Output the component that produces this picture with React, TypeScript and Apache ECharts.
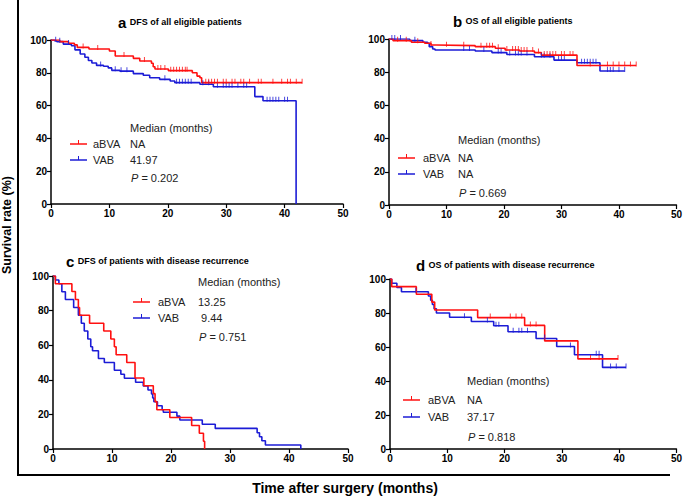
import React, { useEffect, useRef } from "react";
import * as echarts from "echarts";

const RED = "#ff1010";
const BLUE = "#1c1cd6";

// Kaplan-Meier step points [months, survival %]
const aRed = [[0,100],[1.5,99],[3,98],[4,97],[4.5,95.5],[6.5,94.5],[10,93.3],[11,90.2],[14.1,88.8],[15.2,87.2],[17.2,85.8],[17.5,83.7],[17.8,82.3],[20.1,81.3],[24.2,80],[25,78],[25.5,77],[25.8,74],[43,74]];
const aBlue = [[0,100],[0.6,99.5],[1,99],[2.1,97.5],[3.5,96.5],[4.1,94],[5,91.5],[5.8,89.5],[6.4,87.5],[7,86],[7.8,84.5],[9,84],[9.8,83],[10.4,81.5],[11.8,81],[14.1,79.5],[15.8,78.5],[16.9,77],[18.6,76],[20.4,75],[21.2,74],[25.5,73],[27.8,71.5],[34.9,65.5],[36.3,63],[41.97,0]];
const bRed = [[0,100],[0.7,99],[3.9,98],[6.2,97.4],[7.3,96.4],[8.2,96],[15,95.4],[18.5,94.4],[20.2,93.4],[22.7,92.8],[25.3,91.8],[26.5,90.3],[32.7,84],[43,84]];
const bBlue = [[0,100],[3.6,99],[5.9,98],[6.7,97.4],[7,95.4],[7.6,94],[8,93.4],[15,92.8],[17.9,91.8],[20.5,90.7],[25.3,89.3],[28.7,87.3],[32.7,85.7],[36.7,80.7],[41,80.7]];
const cRed = [[0,100],[0.4,95.5],[3.2,91],[3.8,86.4],[4.3,81.8],[4.5,77.3],[6.2,72.7],[8.6,68.2],[9.8,63.6],[10.4,59.1],[10.7,54.5],[12.5,50],[13.9,41],[15.4,36.6],[17,32],[17.3,27.4],[17.6,22.7],[19.8,18.2],[23.5,13.6],[24.8,9.1],[25.5,4.5],[25.7,0]];
const cBlue = [[0,100],[0.4,97.7],[1,95.5],[1.5,90.9],[2.1,86.4],[3.5,81.8],[4.3,77.3],[4.8,72.7],[5.3,68.2],[5.9,63.6],[6.4,59.1],[6.7,56.8],[7.7,52.3],[8.7,50],[10.4,45.5],[11.5,43.2],[12.1,40.9],[14,38.6],[15.3,36.4],[16.1,34.1],[16.7,31.8],[16.9,29.5],[17.1,27.3],[17.7,25],[18.5,22.7],[18.7,21.2],[21,19],[21.5,16.8],[25.3,14.3],[27.5,11.9],[34.6,9.4],[35,7.1],[35.4,4.8],[36,2.3],[42,0]];
const dRed = [[0,100],[0.3,95.5],[4.6,91],[7.3,86.4],[7.8,81.8],[15.3,77.3],[23.5,72.7],[27,63.6],[32.8,53],[39.8,53]];
const dBlue = [[0,100],[0.3,97.5],[1.2,95],[2,92.5],[6.7,90],[7.1,87.5],[7.4,85],[7.7,82.5],[8.1,80],[10.4,77.5],[14.2,75],[18.1,72.5],[20.6,69],[25.5,65],[29.1,60.3],[32.2,55.4],[37.1,48],[41.2,48]];

// censoring times (months)
const aRedCens = [5.5,8,12.5,16,18.3,18.8,19.5,20.5,21,21.5,22,22.5,23,23.3,26.5,27,27.5,28,28.5,29.5,30,31,31.5,32.5,33,34,35.5,36,38,39.5,40.5,41,42,43];
const aBlueCens = [0.8,1.5,3,8.5,11,12,13,19.5,21.5,22,22.5,23,23.5,24,26,27,28.5,29.5,30,30.5,31,32,33,33.5,37,37.5,38,38.5,39,40,40.5];
const bRedCens = [1.5,3,5,7.3,10,13,16,17,17.5,18,19,20.5,21.5,22,22.5,23,23.5,24,25,26,27,27.5,28,28.5,29,30,30.5,31.5,32,35,38,39,40,41,42,43];
const bBlueCens = [0.5,1,2,4.5,13,14,16.5,19,19.5,21,22,22.5,23,24,26.5,27,28,29.5,30,30.5,33.5,34,34.5,35,35.5,36,38,38.5,39,40,41];
const dRedCens = [17.5,21,22,23,24.5,25.5,35,36.5,39.8];
const dBlueCens = [4.5,13,17,18.5,19,21.5,22.5,23,24,27,31.5,36,36.5,38.5,39.5,41.2];

const xTicks = [0, 10, 20, 30, 40, 50];
const yTicks = [0, 20, 40, 60, 80, 100];

const panels = [
  { letter: "a", title: "DFS of all eligible patients", red: aRed, blue: aBlue, redC: aRedCens, blueC: aBlueCens, redMed: "NA", blueMed: "41.97", p: "0.202" },
  { letter: "b", title: "OS of all eligible patients", red: bRed, blue: bBlue, redC: bRedCens, blueC: bBlueCens, redMed: "NA", blueMed: "NA", p: "0.669" },
  { letter: "c", title: "DFS of patients with disease recurrence", red: cRed, blue: cBlue, redC: [] as number[], blueC: [] as number[], redMed: "13.25", blueMed: " 9.44", p: "0.751" },
  { letter: "d", title: "OS of patients with disease recurrence", red: dRed, blue: dBlue, redC: dRedCens, blueC: dBlueCens, redMed: "NA", blueMed: "37.17", p: "0.818" },
];

// layout (pixels)
const grids = [
  { left: 51, top: 40, width: 292, height: 164 },
  { left: 389, top: 39, width: 292, height: 166 },
  { left: 53, top: 276, width: 295, height: 173 },
  { left: 390, top: 279, width: 287, height: 170 },
];
const titlePos = [[118, 22], [453, 21], [66, 261], [416, 265]];
const legendPos = [
  { lx: 70, tx: 93, vx: 130, medY: 128, y1: 144, y2: 160, py: 178 },
  { lx: 398, tx: 423, vx: 458, medY: 140, y1: 158, y2: 174, py: 193 },
  { lx: 133, tx: 158, vx: 198, medY: 282, y1: 302, y2: 318, py: 337 },
  { lx: 403, tx: 428, vx: 467, medY: 381, y1: 400, y2: 417, py: 437 },
];

function valueAt(curve: number[][], t: number): number {
  let v = curve[0][1];
  for (let i = 0; i < curve.length; i++) {
    if (curve[i][0] <= t) v = curve[i][1];
  }
  return v;
}

const FONT = "Arial, 'Liberation Sans', sans-serif";

export default function App() {
  const ref = useRef<HTMLDivElement>(null);
  useEffect(() => {
    if (!ref.current) return;
    const chart = echarts.init(ref.current, undefined, { renderer: "svg" });
    const series: any[] = [];
    const graphic: any[] = [];
    panels.forEach((p, i) => {
      const mk = (data: number[][], color: string) => ({
        type: "line", step: "end", xAxisIndex: i, yAxisIndex: i, data,
        showSymbol: false, symbol: "none", lineStyle: { color, width: 1.6 }, z: color === RED ? 3 : 2,
      });
      series.push(mk(p.blue, BLUE));
      series.push(mk(p.red, RED));
      const cens = (times: number[], curve: number[][], color: string) => ({
        type: "scatter", xAxisIndex: i, yAxisIndex: i,
        data: times.map((t) => [t, valueAt(curve, t)]),
        symbol: "rect", symbolSize: [1, 5], symbolOffset: [0, -1.5],
        itemStyle: { color }, z: 4,
      });
      if (p.blueC.length) series.push(cens(p.blueC, p.blue, BLUE));
      if (p.redC.length) series.push(cens(p.redC, p.red, RED));

      const [tx, ty] = titlePos[i];
      graphic.push({
        type: "text", x: tx, y: ty,
        style: {
          text: `{l|${p.letter}} {t|${p.title}}`,
          verticalAlign: "middle",
          rich: {
            l: { font: `bold 15px ${FONT}`, fill: "#000" },
            t: { font: `bold 9px ${FONT}`, fill: "#000" },
          },
        },
      });
      const L = legendPos[i];
      const txt = (x: number, y: number, s: string) => ({
        type: "text", x, y, style: { text: s, font: `11px ${FONT}`, fill: "#222", verticalAlign: "middle" },
      });
      graphic.push(txt(L.vx, L.medY, "Median (months)"));
      [[L.y1, RED, "aBVA", p.redMed], [L.y2, BLUE, "VAB", p.blueMed]].forEach(([y, c, name, med]: any) => {
        graphic.push({ type: "line", shape: { x1: L.lx, y1: y, x2: L.lx + 17, y2: y }, style: { stroke: c, lineWidth: 1.5 } });
        graphic.push({ type: "line", shape: { x1: L.lx + 8.5, y1: y - 4, x2: L.lx + 8.5, y2: y }, style: { stroke: c, lineWidth: 1 } });
        graphic.push(txt(L.tx, y, name));
        graphic.push(txt(L.vx, y, med));
      });
      graphic.push({
        type: "text", x: L.vx + 1, y: L.py,
        style: {
          text: `{i|P} = ${p.p}`, font: `11px ${FONT}`, fill: "#222", verticalAlign: "middle",
          rich: { i: { font: `italic 11px ${FONT}`, fill: "#222" } },
        },
      });
    });

    // outer bracket and shared axis titles
    graphic.push({ type: "line", shape: { x1: 18, y1: 0, x2: 18, y2: 475 }, style: { stroke: "#000", lineWidth: 2 } });
    graphic.push({ type: "line", shape: { x1: 17, y1: 475, x2: 670, y2: 475 }, style: { stroke: "#000", lineWidth: 2 } });
    graphic.push({
      type: "text", x: 7, y: 225, rotation: Math.PI / 2,
      style: { text: "Survival rate (%)", font: `bold 12.5px ${FONT}`, fill: "#000", align: "center", verticalAlign: "middle" },
    });
    graphic.push({
      type: "text", x: 345, y: 488,
      style: { text: "Time after surgery (months)", font: `bold 14px ${FONT}`, fill: "#000", align: "center", verticalAlign: "middle" },
    });

    const axisCommon = {
      axisLine: { show: true, onZero: false, lineStyle: { color: "#000", width: 1.5 } },
      axisTick: { show: true, length: 4, lineStyle: { color: "#000", width: 1.2 } },
      splitLine: { show: false },
      axisLabel: { color: "#000", fontWeight: "bold", fontSize: 10, fontFamily: FONT, margin: 4 },
    };
    chart.setOption({
      animation: false,
      backgroundColor: "#fff",
      grid: grids.map((g) => ({ ...g })),
      xAxis: grids.map((_, i) => ({
        type: "value", gridIndex: i, min: xTicks[0], max: xTicks[xTicks.length - 1], interval: xTicks[1] - xTicks[0], ...axisCommon,
      })),
      yAxis: grids.map((_, i) => ({
        type: "value", gridIndex: i, min: yTicks[0], max: yTicks[yTicks.length - 1], interval: yTicks[1] - yTicks[0], ...axisCommon,
      })),
      series,
      graphic,
    });
    return () => chart.dispose();
  }, []);
  return <div ref={ref} style={{ position: "absolute", left: 0, top: 0, width: 685, height: 497 }} />;
}
